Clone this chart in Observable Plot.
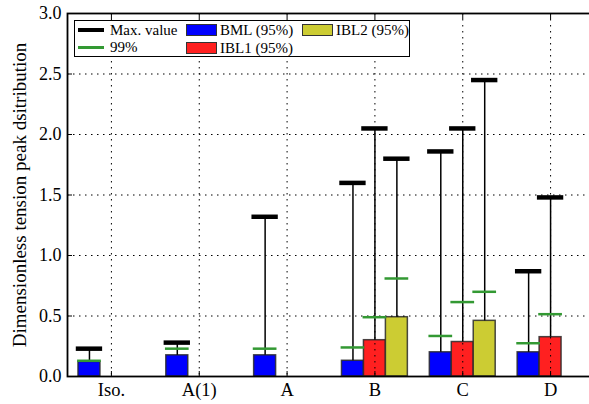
<!DOCTYPE html>
<html>
<head>
<meta charset="utf-8">
<script src="https://cdn.jsdelivr.net/npm/d3@7"></script>
<script src="https://cdn.jsdelivr.net/npm/@observablehq/plot@0.6"></script>
<style>
  html, body { margin: 0; padding: 0; background: white; }
  #wrap { position: relative; width: 589px; height: 404px; overflow: hidden; font-family: "Liberation Serif", serif; }
  #legend { position: absolute; left: 74px; top: 20px; width: 334px; height: 35px; border: 1.5px solid black; background: white; }
  .item { position: absolute; font-size: 15px; line-height: 16px; white-space: nowrap; color: black; }
  .line { position: absolute; width: 26px; }
  .patch { position: absolute; width: 29px; height: 10px; border: 1px solid #333; }
</style>
</head>
<body>
<div id="wrap"></div>
<script>
const categories = ["Iso.", "A(1)", "A", "B", "C", "D"];
const seriesNames = ["BML (95%)", "IBL1 (95%)", "IBL2 (95%)"];
const seriesColors = ["#0000ff", "#ff2020", "#cccc33"];
const yTicks = [0, 0.5, 1.0, 1.5, 2.0, 2.5, 3.0];

// 95% bar heights
const bml95  = [0.12, 0.175, 0.175, 0.13, 0.20, 0.20];
const ibl1_95 = [null, null, null, 0.30, 0.285, 0.325];
const ibl2_95 = [null, null, null, 0.49, 0.46, null];
// 99% values
const bml99  = [0.13, 0.23, 0.23, 0.24, 0.335, 0.275];
const ibl1_99 = [null, null, null, 0.49, 0.615, 0.515];
const ibl2_99 = [null, null, null, 0.81, 0.70, null];
// maximum values
const bmlMax  = [0.23, 0.28, 1.32, 1.60, 1.86, 0.87];
const ibl1Max = [null, null, null, 2.05, 2.05, 1.48];
const ibl2Max = [null, null, null, 1.80, 2.45, null];

const v95 = [bml95, ibl1_95, ibl2_95];
const v99 = [bml99, ibl1_99, ibl2_99];
const vMax = [bmlMax, ibl1Max, ibl2Max];

const offsets = [-0.25, 0, 0.25];
const barW = 0.25;
const rows = [];
seriesNames.forEach((s, si) => {
  categories.forEach((c, ci) => {
    if (v95[si][ci] != null) {
      rows.push({series: s, color: seriesColors[si], pos: ci + offsets[si],
                 p95: v95[si][ci], p99: v99[si][ci], max: vMax[si][ci]});
    }
  });
});

const chart = Plot.plot({
  width: 589,
  height: 404,
  marginLeft: 67,
  marginTop: 13,
  marginBottom: 28,
  marginRight: -5,
  x: {domain: [-0.5, 5.5], axis: null},
  y: {domain: [0, 3], axis: null},
  style: {fontFamily: "Liberation Serif, serif", fontSize: "15px", background: "white", color: "black", overflow: "hidden"},
  marks: [
    Plot.rectY(rows, {x1: d => d.pos - barW / 2, x2: d => d.pos + barW / 2, y1: 0, y2: "p95",
      fill: "color", stroke: "#2a2a2a", strokeWidth: 1.5, strokeOpacity: 0.85}),
    Plot.gridX(d3.range(categories.length), {stroke: "black", strokeOpacity: 1, strokeWidth: 1, strokeDasharray: "1.5,4.5"}),
    Plot.gridY(yTicks.slice(1, -1), {stroke: "black", strokeOpacity: 1, strokeWidth: 1, strokeDasharray: "1.5,4.5"}),
    Plot.ruleX(rows, {x: "pos", y1: "p95", y2: "max", stroke: "black", strokeWidth: 1.5}),
    Plot.ruleY(rows, {y: "p99", x1: d => d.pos - 0.135, x2: d => d.pos + 0.135, stroke: "#339933", strokeWidth: 2.5}),
    Plot.ruleY(rows, {y: "max", x1: d => d.pos - 0.15, x2: d => d.pos + 0.15, stroke: "black", strokeWidth: 4.5}),
    Plot.axisY(yTicks, {anchor: "left", tickSize: 5, dx: 5, tickPadding: 6, tickFormat: d3.format(".1f"), label: null, fontSize: 18}),
    Plot.axisX(d3.range(categories.length), {anchor: "bottom", tickSize: 5, dy: -5, tickPadding: 6, tickFormat: i => categories[i], label: null, fontSize: 18.5}),
    Plot.axisX(d3.range(categories.length), {anchor: "top", tickSize: 5, dy: 5, tickFormat: () => "", label: null}),
    Plot.frame({stroke: "black", strokeWidth: 1.8}),
    Plot.text(["Dimensionless tension peak dsitribution"], {frameAnchor: "left", textAnchor: "middle", lineAnchor: "middle", rotate: -90, dx: -48, fontSize: 19})
  ]
});

const wrap = document.getElementById("wrap");
wrap.appendChild(chart);

// legend overlay
const legend = document.createElement("div");
legend.id = "legend";
wrap.appendChild(legend);
function add(html) { const d = document.createElement("div"); d.innerHTML = html; const el = d.firstChild; legend.appendChild(el); return el; }
// positions relative to legend box interior
add(`<div class="line" style="left:3px;top:7px;height:4px;background:black"></div>`);
add(`<div class="item" style="left:35px;top:1px">Max. value</div>`);
add(`<div class="line" style="left:3px;top:25px;height:2.5px;background:#339933"></div>`);
add(`<div class="item" style="left:35px;top:18px">99%</div>`);
const patchPos = [[111, 3], [111, 21], [227, 3]];
seriesNames.forEach((s, i) => {
  const [l, t] = patchPos[i];
  add(`<div class="patch" style="left:${l}px;top:${t}px;background:${seriesColors[i]}"></div>`);
  add(`<div class="item" style="left:${l + 34}px;top:${t - 2}px">${s}</div>`);
});
</script>
</body>
</html>
